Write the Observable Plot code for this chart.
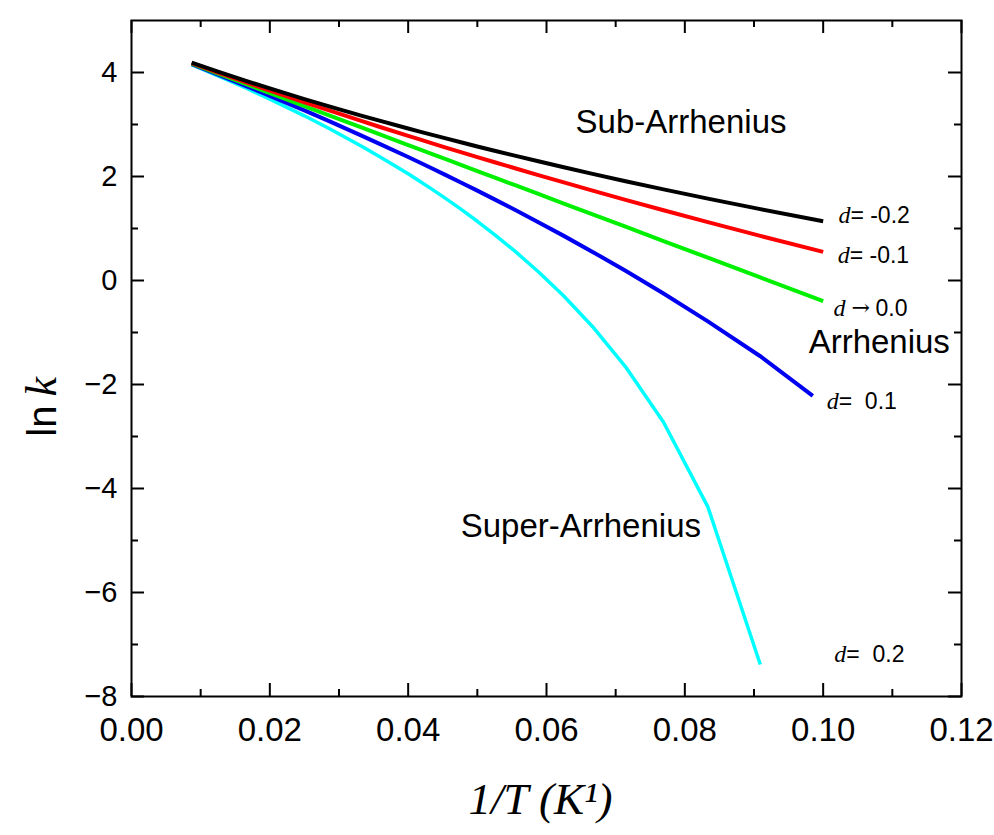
<!DOCTYPE html>
<html><head><meta charset="utf-8">
<script src="https://cdn.jsdelivr.net/npm/d3@7"></script>
<script src="https://cdn.jsdelivr.net/npm/@observablehq/plot@0.6"></script>
<style>html,body{margin:0;padding:0;background:#fff;} svg{display:block}</style>
</head><body><div id="chart"></div>
<script>
// x values: 1/T
const invT = [0.0087, 0.0125, 0.01667, 0.02, 0.025, 0.02857, 0.03333, 0.03571, 0.04, 0.04167, 0.04348, 0.04545, 0.04762, 0.05, 0.05263, 0.05556, 0.05882, 0.0625, 0.06667, 0.07143, 0.07692, 0.08333, 0.09091, 0.1];
// the d = 0.1 curve stops slightly short of 0.10 in the picture
const invTBlue = [0.0087, 0.0125, 0.01667, 0.02, 0.025, 0.02857, 0.03333, 0.03571, 0.04, 0.04167, 0.04348, 0.04545, 0.04762, 0.05, 0.05263, 0.05556, 0.05882, 0.0625, 0.06667, 0.07143, 0.07692, 0.08333, 0.09091, 0.0985];
// ln k for each deformation parameter d
const lnkDm02 = [4.188, 4.016, 3.834, 3.693, 3.489, 3.348, 3.167, 3.078, 2.923, 2.863, 2.800, 2.732, 2.658, 2.578, 2.491, 2.396, 2.292, 2.178, 2.051, 1.910, 1.752, 1.574, 1.372, 1.139];
const lnkDm01 = [4.179, 3.999, 3.805, 3.652, 3.427, 3.270, 3.064, 2.962, 2.782, 2.713, 2.638, 2.557, 2.469, 2.374, 2.269, 2.154, 2.027, 1.886, 1.728, 1.551, 1.351, 1.122, 0.858, 0.550];
const lnkD00  = [4.170, 3.980, 3.772, 3.605, 3.355, 3.176, 2.938, 2.819, 2.605, 2.522, 2.431, 2.332, 2.224, 2.105, 1.973, 1.827, 1.664, 1.480, 1.272, 1.034, 0.759, 0.438, 0.060, -0.395];
const lnkDp01 = [4.160, 3.960, 3.735, 3.551, 3.270, 3.064, 2.782, 2.638, 2.374, 2.269, 2.154, 2.027, 1.886, 1.728, 1.551, 1.351, 1.122, 0.858, 0.550, 0.187, -0.250, -0.785, -1.456, -2.220];
const lnkDp02 = [4.150, 3.937, 3.693, 3.489, 3.167, 2.923, 2.578, 2.396, 2.051, 1.910, 1.752, 1.574, 1.372, 1.139, 0.869, 0.550, 0.169, -0.299, -0.888, -1.659, -2.727, -4.354, -7.385];

// tick values
const xMajor = [0, 0.02, 0.04, 0.06, 0.08, 0.10, 0.12];
const xMinor = [0.01, 0.03, 0.05, 0.07, 0.09, 0.11];
const yMajor = [-8, -6, -4, -2, 0, 2, 4];
const yMinor = [-7, -5, -3, -1, 1, 3];

// curve end labels ("d" + remainder)
const dLabelRest = ["= -0.2", "= -0.1", "0.0", "=\u00a0 0.1", "=\u00a0 0.2"];
const dLabelArrow = [false, false, true, false, false];
const dLabelX = [0.1022, 0.1021, 0.1015, 0.1005, 0.1016];
const dLabelY = [1.115, 0.327, -0.692, -2.462, -7.327];

// region annotations
const regionText = ["Sub-Arrhenius", "Arrhenius", "Super-Arrhenius"];
const regionX = [0.0642, 0.0979, 0.0476];
const regionY = [2.827, -1.385, -4.942];

const series = [
  {xs: invT, vals: lnkDp02, color: "#00ffff", w: 3.5},
  {xs: invTBlue, vals: lnkDp01, color: "#0000f0", w: 4},
  {xs: invT, vals: lnkD00,  color: "#00f000", w: 4},
  {xs: invT, vals: lnkDm01, color: "#ff0000", w: 4},
  {xs: invT, vals: lnkDm02, color: "#000000", w: 4}
];

const W = 994, H = 835, mL = 131, mR = 33, mT = 20, mB = 139;
const innerW = W - mL - mR, innerH = H - mT - mB;
const sans = "'Liberation Sans', Arial, Helvetica, sans-serif";
const serif = "'Liberation Serif', 'Times New Roman', serif";

const dLabels = dLabelRest.map((t, i) => ({t, arrow: dLabelArrow[i], x: dLabelX[i], y: dLabelY[i]}));
const regions = regionText.map((t, i) => ({t, x: regionX[i], y: regionY[i]}));

const plot = Plot.plot({
  width: W, height: H,
  marginLeft: mL, marginRight: mR, marginTop: mT, marginBottom: mB,
  x: {domain: [0, 0.12]},
  y: {domain: [-8, 5]},
  style: {fontFamily: sans, background: "#fff", color: "#000"},
  marks: [
    Plot.axisX(xMajor, {tickSize: 0, tickPadding: 21, fontSize: 33, tickFormat: d => d.toFixed(2), label: null}),
    Plot.axisY(yMajor, {tickSize: 0, tickPadding: 14, fontSize: 29, tickFormat: d => d < 0 ? "\u2212" + (-d) : String(d), label: null}),
    // inward ticks: bottom & top
    Plot.tickX(xMajor, {x: d => d, insetTop: innerH - 13, strokeWidth: 2}),
    Plot.tickX(xMinor, {x: d => d, insetTop: innerH - 7, strokeWidth: 2}),
    Plot.tickX(xMajor, {x: d => d, insetBottom: innerH - 13, strokeWidth: 2}),
    Plot.tickX(xMinor, {x: d => d, insetBottom: innerH - 7, strokeWidth: 2}),
    // inward ticks: left & right
    Plot.tickY(yMajor, {y: d => d, insetRight: innerW - 13, strokeWidth: 2}),
    Plot.tickY(yMinor, {y: d => d, insetRight: innerW - 7, strokeWidth: 2}),
    Plot.tickY(yMajor, {y: d => d, insetLeft: innerW - 13, strokeWidth: 2}),
    Plot.tickY(yMinor, {y: d => d, insetLeft: innerW - 7, strokeWidth: 2}),
    Plot.frame({stroke: "#000", strokeWidth: 2}),
    ...series.map(s => Plot.line(s.vals.map((v, i) => ({x: s.xs[i], y: v})), {
      x: "x", y: "y", stroke: s.color, strokeWidth: s.w, strokeLinecap: "butt", strokeLinejoin: "round"
    })),
    // d labels: italic serif "d" + sans remainder
    Plot.text(dLabels, {x: "x", y: "y", text: () => "d", textAnchor: "start", lineAnchor: "bottom",
      fontFamily: serif, fontStyle: "italic", fontSize: 24, fill: "#000"}),
    Plot.text(dLabels, {filter: d => !d.arrow, x: "x", y: "y", text: "t", textAnchor: "start", lineAnchor: "bottom", dx: 12,
      fontFamily: sans, fontSize: 23, fill: "#000"}),
    Plot.text(dLabels, {filter: d => d.arrow, x: "x", y: "y", text: () => "\u2192", textAnchor: "start", lineAnchor: "bottom", dx: 18, dy: -1,
      fontFamily: "'DejaVu Serif', 'DejaVu Sans', serif", fontSize: 22, fill: "#000"}),
    Plot.text(dLabels, {filter: d => d.arrow, x: "x", y: "y", text: "t", textAnchor: "start", lineAnchor: "bottom", dx: 42,
      fontFamily: sans, fontSize: 23, fill: "#000"}),
    Plot.text(regions, {x: "x", y: "y", text: "t", textAnchor: "start", lineAnchor: "bottom",
      fontFamily: sans, fontSize: 33, fill: "#000"}),
    // axis titles
    Plot.text(["1/T (K\u00b9)"], {frameAnchor: "bottom", textAnchor: "middle", lineAnchor: "bottom",
      dx: -6, dy: 117, fontFamily: serif, fontStyle: "italic", fontSize: 45, fill: "#000"}),
    Plot.text(["ln"], {frameAnchor: "left", rotate: -90, textAnchor: "end", lineAnchor: "bottom",
      dx: -76, dy: 47, fontFamily: sans, fontSize: 40, fill: "#000"}),
    Plot.text(["k"], {frameAnchor: "left", rotate: -90, textAnchor: "start", lineAnchor: "bottom",
      dx: -76, dy: 38, fontFamily: serif, fontStyle: "italic", fontSize: 44, fill: "#000"})
  ]
});
document.getElementById("chart").appendChild(plot);
</script>
</body></html>
